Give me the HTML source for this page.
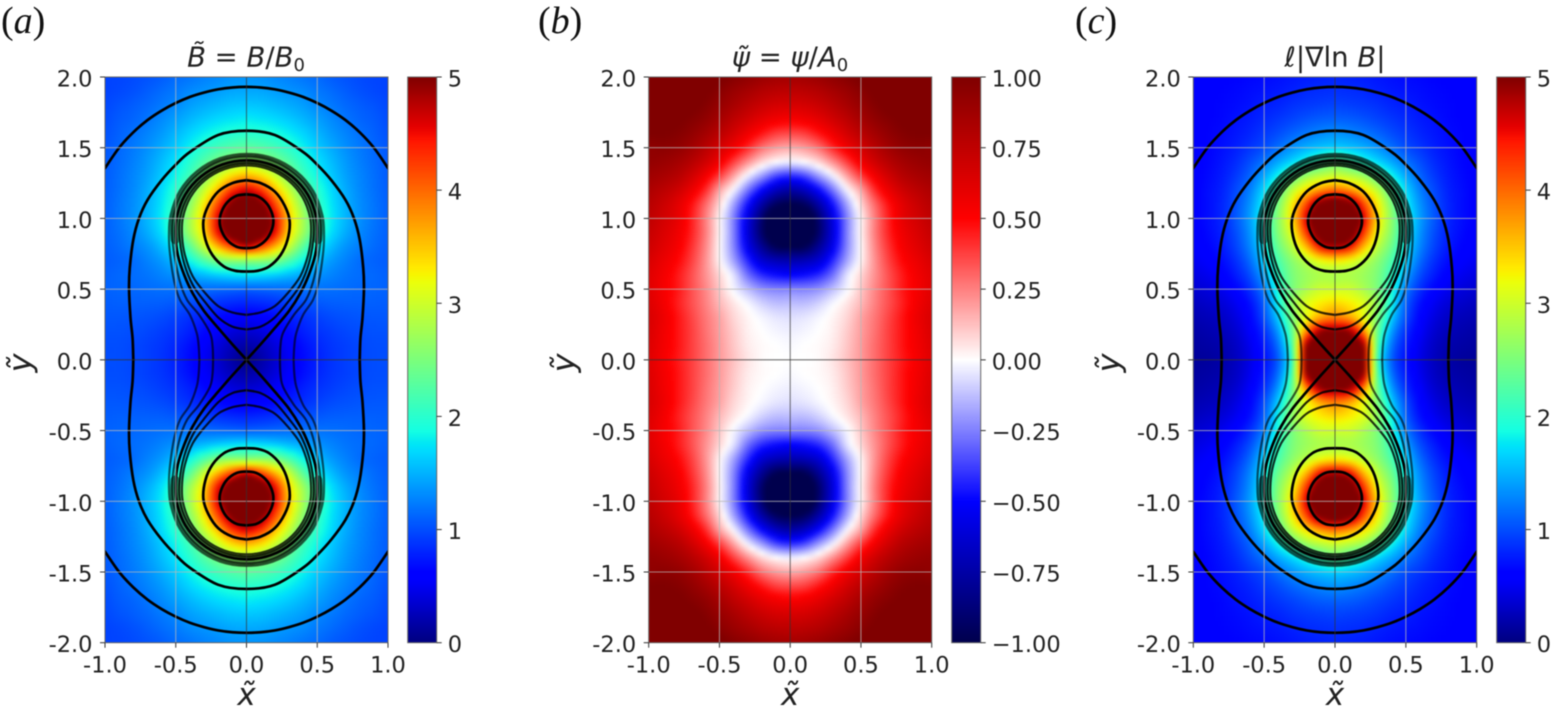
<!DOCTYPE html>
<html>
<head>
<meta charset="utf-8">
<title>Magnetic field maps</title>
<style>
html,body{margin:0;padding:0;background:#fff;}
svg{display:block;}
text{font-family:"DejaVu Sans","Liberation Sans",sans-serif;fill:#222;}
.panel-letter{font-family:"Liberation Serif",serif;font-size:38px;fill:#111;}
</style>
</head>
<body>
<svg id="figure" width="1555" height="713" viewBox="0 0 1555 713" xmlns="http://www.w3.org/2000/svg">
  <defs>
    <filter id="soft" filterUnits="userSpaceOnUse" x="0" y="0" width="1555" height="713" color-interpolation-filters="sRGB"><feGaussianBlur stdDeviation="2.2"/></filter>
    <filter id="fine" filterUnits="userSpaceOnUse" x="0" y="0" width="1555" height="713" color-interpolation-filters="sRGB"><feGaussianBlur stdDeviation="0.45"/></filter>
  </defs>
  <g id="root" filter="url(#fine)">
    <rect x="0" y="0" width="1555" height="713" fill="#fff"/>
    <g id="panels"></g>
    <text class="panel-letter" x="1" y="33">(<tspan font-style="italic">a</tspan>)</text>
    <text class="panel-letter" x="538" y="33">(<tspan font-style="italic">b</tspan>)</text>
    <text class="panel-letter" x="1075" y="33">(<tspan font-style="italic">c</tspan>)</text>
    <text x="246" y="66.5" font-size="27.5" text-anchor="middle"><tspan font-style="italic">B&#771;</tspan> = <tspan font-style="italic">B</tspan>/<tspan font-style="italic">B</tspan><tspan font-size="18" dy="4.5">0</tspan></text>
    <text x="790" y="66.5" font-size="27.5" text-anchor="middle"><tspan font-style="italic">&#968;&#771;</tspan> = <tspan font-style="italic">&#968;</tspan>/<tspan font-style="italic">A</tspan><tspan font-size="18" dy="4.5">0</tspan></text>
    <text x="1335" y="66.5" font-size="27.5" text-anchor="middle"><tspan font-style="italic">&#8467;</tspan>|&#8711;ln <tspan font-style="italic">B</tspan>|</text>
  </g>
</svg>
<script>
// Node coordinates of the value grids (one quadrant, the maps are mirrored in x and y)
const gridX = [0, 0.1, 0.2, 0.3, 0.4, 0.5, 0.6, 0.7, 0.8, 0.9, 1.0];
const gridY = [2.0, 1.9, 1.8, 1.7, 1.6, 1.5, 1.4, 1.3, 1.2, 1.1, 1.0, 0.9, 0.8, 0.7, 0.6, 0.5, 0.4, 0.3, 0.2, 0.1, 0];

const fieldB = [
[1.35,1.34,1.3,1.26,1.2,1.15,1.08,1.03,.99,.96,.95],
[1.45,1.44,1.4,1.35,1.3,1.22,1.15,1.08,1.02,.98,.95],
[1.6,1.58,1.53,1.47,1.4,1.3,1.22,1.14,1.08,1.03,.98],
[1.78,1.75,1.7,1.62,1.52,1.41,1.3,1.2,1.12,1.07,1.0],
[2.0,1.97,1.9,1.8,1.67,1.52,1.38,1.27,1.18,1.1,1.03],
[2.3,2.25,2.15,2.0,1.82,1.63,1.47,1.33,1.22,1.13,1.05],
[2.75,2.68,2.5,2.25,1.98,1.75,1.55,1.38,1.25,1.15,1.07],
[3.6,3.4,3.0,2.55,2.15,1.85,1.62,1.42,1.28,1.17,1.08],
[4.6,4.3,3.6,2.95,2.4,2.0,1.7,1.47,1.3,1.18,1.09],
[5.6,5.1,4.2,3.3,2.6,2.1,1.75,1.5,1.32,1.2,1.1],
[6.2,5.6,4.6,3.5,2.75,2.18,1.78,1.52,1.33,1.2,1.1],
[6.0,5.4,4.5,3.4,2.7,2.12,1.72,1.47,1.3,1.18,1.1],
[4.6,4.2,3.6,2.95,2.3,1.85,1.55,1.35,1.24,1.15,1.09],
[2.6,2.6,2.5,2.2,1.85,1.58,1.38,1.26,1.16,1.11,1.08],
[1.75,1.72,1.65,1.55,1.45,1.35,1.27,1.2,1.16,1.13,1.1],
[1.1,1.12,1.14,1.16,1.18,1.18,1.17,1.15,1.13,1.12,1.1],
[.8,.82,.86,.93,1,1.05,1.08,1.09,1.09,1.09,1.08],
[.55,.58,.66,.76,.85,.93,.99,1.02,1.04,1.05,1.05],
[.36,.4,.52,.65,.77,.86,.92,.97,1,1.02,1.02],
[.18,.25,.4,.55,.69,.8,.88,.93,.97,1,1],
[.05,.18,.35,.52,.66,.78,.87,.93,.97,1,1]
];

const fieldPsi = [
[.85,.86,.89,.93,.97,1.02,1.06,1.08,1.08,1.06,1.04],
[.76,.77,.8,.85,.9,.96,1.02,1.06,1.07,1.06,1.04],
[.66,.67,.71,.77,.84,.91,.98,1.03,1.05,1.05,1.04],
[.53,.55,.6,.68,.76,.85,.93,.98,1.02,1.03,1.02],
[.36,.38,.46,.56,.67,.77,.86,.93,.98,1,1],
[.17,.2,.28,.42,.55,.67,.78,.87,.93,.95,.94],
[-.03,0,.08,.22,.38,.55,.69,.79,.86,.9,.92],
[-.42,-.36,-.2,-.03,.18,.38,.55,.69,.79,.84,.87],
[-.75,-.68,-.5,-.27,-.02,.18,.42,.58,.7,.77,.82],
[-1.0,-.95,-.75,-.47,-.18,.08,.3,.48,.62,.71,.78],
[-1.3,-1.2,-.9,-.58,-.25,.02,.26,.45,.6,.68,.75],
[-1.3,-1.18,-.92,-.6,-.25,.02,.26,.44,.57,.65,.72],
[-1,-.98,-.8,-.55,-.24,.01,.24,.41,.54,.62,.69],
[-.72,-.7,-.62,-.42,-.18,.02,.22,.38,.5,.58,.65],
[-.5,-.48,-.42,-.28,-.06,.08,.22,.35,.46,.55,.62],
[-.25,-.25,-.22,-.13,-.02,.11,.24,.35,.46,.54,.62],
[-.13,-.13,-.09,-.02,.05,.14,.25,.35,.45,.55,.63],
[-.06,-.05,-.02,.02,.08,.18,.27,.37,.47,.57,.65],
[-.03,-.02,0,.03,.1,.19,.28,.38,.47,.56,.64],
[-.01,0,.01,.04,.11,.2,.29,.38,.47,.55,.63],
[0,0,.01,.05,.12,.2,.29,.38,.46,.54,.62]
];

const fieldGrad = [
[.8,.78,.76,.73,.7,.67,.65,.63,.62,.61,.6],
[.85,.84,.82,.78,.74,.71,.68,.65,.63,.61,.6],
[.95,.93,.9,.86,.8,.76,.71,.67,.64,.62,.6],
[1.1,1.08,1.03,.96,.89,.82,.75,.7,.65,.62,.6],
[1.35,1.3,1.22,1.12,1,.9,.8,.73,.67,.63,.6],
[1.65,1.6,1.5,1.35,1.18,1,.88,.77,.69,.63,.6],
[2.4,2.2,1.95,1.7,1.45,1.2,1,.83,.72,.64,.6],
[3,2.9,2.7,2.3,1.85,1.45,1.12,.9,.75,.66,.6],
[4,3.8,3.4,2.9,2.25,1.7,1.25,.98,.78,.68,.6],
[5.5,5.2,4.2,3.3,2.5,1.85,1.35,1.02,.8,.68,.6],
[7,6,4.6,3.4,2.6,1.95,1.4,1.05,.8,.68,.6],
[6,5.5,4.3,3.2,2.55,1.9,1.35,1,.78,.66,.58],
[4.8,4.5,3.6,2.9,2.4,1.8,1.28,.95,.74,.62,.55],
[3.3,3.2,2.9,2.6,2.2,1.65,1.15,.85,.67,.56,.5],
[2.8,2.8,2.7,2.5,2.05,1.45,1,.75,.58,.48,.43],
[3,3,2.8,2.5,1.95,1.25,.85,.62,.48,.4,.36],
[3.4,3.3,3.1,2.65,1.85,1.1,.7,.5,.38,.32,.28],
[3.9,3.7,3.2,2.5,1.65,1,.62,.42,.3,.25,.22],
[5,4.9,3.9,2.4,1.4,.85,.55,.35,.25,.2,.17],
[6,5.5,4.9,2.3,1.2,.75,.48,.3,.2,.16,.14],
[6,6,5.1,2.2,1.1,.7,.45,.28,.18,.13,.12]
];

// Flux contours in data units, one half of each curve (mirrored when drawn)
const contourOuter = [[1,1.356],[.9,1.5],[.8,1.609],[.7,1.695],[.6,1.762],[.5,1.816],[.4,1.859],[.3,1.89],[.2,1.913],[.1,1.926],[0,1.93]];
const contourMiddle = [[.8,0],[.805,.15],[.82,.3],[.83,.5],[.825,.65],[.8,.85],[.76,1.0],[.7,1.13],[.6,1.27],[.5,1.38],[.4,1.47],[.2,1.59],[0,1.62]];
const contourCore = [[0,1.17],[.07,1.16],[.135,1.115],[.175,1.05],[.19,.98],[.175,.91],[.135,.845],[.07,.8],[0,.79]];
const contourRing = [[0,1.27],[.1,1.25],[.2,1.19],[.27,1.09],[.305,.98],[.29,.85],[.24,.74],[.16,.66],[.08,.63],[0,.625]];
const contourSeparatrix = [[0,0],[.1,.11],[.2,.225],[.3,.345],[.38,.47],[.44,.6],[.485,.74],[.5,.87],[.492,1.011],[.433,1.168],[.321,1.297],[.171,1.381],[0,1.41]];
const contourInnerA = [[0,.215],[.1,.235],[.2,.3],[.305,.424],[.38,.53],[.44,.68],[.472,.85],[.468,1.006],[.411,1.158],[.305,1.281],[.162,1.362],[0,1.39]];
const contourInnerB = [[0,.318],[.1,.335],[.2,.38],[.29,.47],[.38,.59],[.435,.74],[.455,.87],[.45,1.003],[.396,1.15],[.294,1.27],[.156,1.348],[0,1.375]];
const contourOuterA = [[.236,0],[.24,.1],[.258,.19],[.335,.318],[.42,.424],[.47,.55],[.51,.742],[.525,.88],[.517,1.02],[.455,1.185],[.337,1.32],[.18,1.41],[0,1.44]];
const contourOuterB = [[.333,0],[.338,.1],[.352,.19],[.4,.318],[.47,.424],[.51,.55],[.54,.742],[.548,.88],[.537,1.022],[.472,1.195],[.35,1.335],[.186,1.427],[0,1.457]];
const contourBand = [[.505,.85],[.51,.93],[.502,1.016],[.442,1.178],[.328,1.309],[.174,1.395],[0,1.425]];

// Tick labels
const xTicks = [-1, -0.5, 0, 0.5, 1];
const yTicks = [-2, -1.5, -1, -0.5, 0, 0.5, 1, 1.5, 2];
const gridXLines = [-0.5, 0.5];
const gridYLines = [-1.5, -1, -0.5, 0.5, 1, 1.5];
const jetTicks = [0, 1, 2, 3, 4, 5];
const seismicTicks = [-1, -0.75, -0.5, -0.25, 0, 0.25, 0.5, 0.75, 1];

const NS = 'http://www.w3.org/2000/svg';
const panelsRoot = document.getElementById('panels');

function make(tag, parent, attrs) {
  const e = document.createElementNS(NS, tag);
  for (const k in attrs) e.setAttribute(k, attrs[k]);
  parent.appendChild(e);
  return e;
}
function ramp(t, pts) {
  for (let i = 1; i < pts.length; i++) {
    if (t <= pts[i][0]) {
      const a = pts[i - 1], b = pts[i];
      return a[1] + (b[1] - a[1]) * (t - a[0]) / (b[0] - a[0]);
    }
  }
  return pts[pts.length - 1][1];
}
function jet(t) {
  const r = ramp(t, [[0,0],[.35,0],[.66,1],[.89,1],[1,.5]]);
  const g = ramp(t, [[0,0],[.125,0],[.375,1],[.64,1],[.91,0],[1,0]]);
  const b = ramp(t, [[0,.5],[.11,1],[.34,1],[.65,0],[1,0]]);
  return 'rgb(' + Math.round(r * 255) + ',' + Math.round(g * 255) + ',' + Math.round(b * 255) + ')';
}
function seismic(t) {
  const r = ramp(t, [[0,0],[.25,0],[.5,1],[.75,1],[1,.5]]);
  const g = ramp(t, [[0,0],[.25,0],[.5,1],[.75,0],[1,0]]);
  const b = ramp(t, [[0,.3],[.25,1],[.5,1],[.75,0],[1,0]]);
  return 'rgb(' + Math.round(r * 255) + ',' + Math.round(g * 255) + ',' + Math.round(b * 255) + ')';
}
function cr(p0, p1, p2, p3, t) {
  return 0.5 * (2 * p1 + (p2 - p0) * t + (2 * p0 - 5 * p1 + 4 * p2 - p3) * t * t + (3 * p1 - p0 - 3 * p2 + p3) * t * t * t);
}
function sampleField(field, x, y) {
  const nx = gridX.length, ny = gridY.length;
  const u = Math.min(Math.abs(x), gridX[nx - 1]) / (gridX[1] - gridX[0]);
  const v = (gridY[0] - Math.min(Math.abs(y), gridY[0])) / (gridY[0] - gridY[1]);
  const iu = Math.min(Math.floor(u), nx - 2), iv = Math.min(Math.floor(v), ny - 2);
  const cx = i => { if (i < 0) return -i; return Math.min(i, nx - 1); };
  const cy = j => { if (j < 0) return 0; if (j > ny - 1) return 2 * (ny - 1) - j; return j; };
  const rows = [];
  for (let j = -1; j <= 2; j++) {
    const row = field[cy(iv + j)];
    rows.push(cr(row[cx(iu - 1)], row[cx(iu)], row[cx(iu + 1)], row[cx(iu + 2)], u - iu));
  }
  return cr(rows[0], rows[1], rows[2], rows[3], v - iv);
}
function splinePath(pts) {
  let d = 'M' + pts[0][0].toFixed(2) + ' ' + pts[0][1].toFixed(2);
  for (let i = 0; i < pts.length - 1; i++) {
    const p0 = pts[Math.max(i - 1, 0)], p1 = pts[i], p2 = pts[i + 1], p3 = pts[Math.min(i + 2, pts.length - 1)];
    const c1x = p1[0] + (p2[0] - p0[0]) / 6, c1y = p1[1] + (p2[1] - p0[1]) / 6;
    const c2x = p2[0] - (p3[0] - p1[0]) / 6, c2y = p2[1] - (p3[1] - p1[1]) / 6;
    d += 'C' + c1x.toFixed(2) + ' ' + c1y.toFixed(2) + ' ' + c2x.toFixed(2) + ' ' + c2y.toFixed(2) + ' ' + p2[0].toFixed(2) + ' ' + p2[1].toFixed(2);
  }
  return d;
}

const plotTop = 77, plotBottom = 642.7;

function drawPanel(cfg) {
  const g = make('g', panelsRoot, {});
  
  
  const L = cfg.left, R = cfg.right;
  const sx = x => L + (x + 1) / 2 * (R - L);
  const sy = y => plotTop + (2 - y) / 4 * (plotBottom - plotTop);
  const norm = v => Math.max(0, Math.min(1, (v - cfg.vmin) / (cfg.vmax - cfg.vmin)));

  const clipId = 'clip-' + cfg.id;
  const defs = make('clipPath', g, { id: clipId });
  make('rect', defs, { x: L, y: plotTop, width: R - L, height: plotBottom - plotTop });

  const clipped = make('g', g, { 'clip-path': 'url(#' + clipId + ')' });
  
  

  // heat map cells
  const heat = make('g', clipped, { filter: 'url(#soft)' });
  
  
  const step = 0.1 / 3;
  const nCols = Math.round(2.3 / step), nRows = Math.round(4.3 / step);
  const frag = document.createDocumentFragment();
  for (let j = 0; j < nRows; j++) {
    for (let i = 0; i < nCols; i++) {
      const x0 = -1.15 + i * step, y0 = 2.15 - j * step;
      const xc = x0 + step / 2, yc = y0 - step / 2;
      const v = sampleField(cfg.field, xc, yc);
      const cell = document.createElementNS(NS, 'rect');
      cell.setAttribute('x', sx(x0).toFixed(2));
      cell.setAttribute('y', sy(y0).toFixed(2));
      cell.setAttribute('width', (sx(x0 + step) - sx(x0) + 0.4).toFixed(2));
      cell.setAttribute('height', (sy(y0 - step) - sy(y0) + 0.4).toFixed(2));
      cell.setAttribute('fill', cfg.cmap(norm(v)));
      
      
      frag.appendChild(cell);
    }
  }
  heat.appendChild(frag);

  // contours
  if (cfg.contours) {
    const drawContour = (pts, width, opacity, color) => {
      const half = pts.concat(pts.slice(0, -1).reverse().map(p => [-p[0], p[1]]));
      [1, -1].forEach(sign => {
        const px = half.map(p => [sx(p[0]), sy(sign * p[1])]);
        const path = make('path', clipped, { d: splinePath(px), fill: 'none', stroke: color, 'stroke-width': width, 'stroke-opacity': opacity, 'stroke-linejoin': 'round', 'stroke-linecap': 'round' });
        
        
      });
    };
    drawContour(contourBand, 9, cfg.bandOpacity, cfg.bandColor);
    drawContour(contourOuterB, 2.2, .6, '#000');
    drawContour(contourOuterA, 2.2, .65, '#000');
    drawContour(contourInnerB, 2.2, .8, '#000');
    drawContour(contourInnerA, 2.2, .85, '#000');
    drawContour(contourSeparatrix, 2.7, 1, '#000');
    drawContour(contourCore, 2.7, 1, '#000');
    drawContour(contourRing, 2.7, 1, '#000');
    drawContour(contourMiddle, 2.7, 1, '#000');
    drawContour(contourOuter, 2.7, 1, '#000');
  }

  // grid
  gridXLines.forEach(x => {
    const line = make('line', clipped, { x1: sx(x), x2: sx(x), y1: plotTop, y2: plotBottom, stroke: '#b8b8b8', 'stroke-opacity': .7, 'stroke-width': 1.1 });
    
    
  });
  gridYLines.forEach(y => {
    const line = make('line', clipped, { x1: L, x2: R, y1: sy(y), y2: sy(y), stroke: '#b8b8b8', 'stroke-opacity': .7, 'stroke-width': 1.1 });
    
    
  });
  const zeroV = make('line', clipped, { x1: sx(0), x2: sx(0), y1: plotTop, y2: plotBottom, stroke: '#333', 'stroke-opacity': .65, 'stroke-width': 1.1 });
  
  
  const zeroH = make('line', clipped, { x1: L, x2: R, y1: sy(0), y2: sy(0), stroke: '#333', 'stroke-opacity': .7, 'stroke-width': 1.1 });
  
  

  // frame
  const frame = make('rect', g, { x: L, y: plotTop, width: R - L, height: plotBottom - plotTop, fill: 'none', stroke: '#666', 'stroke-width': 1 });
  
  

  // axis ticks and labels
  xTicks.forEach(x => {
    const t = make('line', g, { x1: sx(x), x2: sx(x), y1: plotBottom, y2: plotBottom + 5, stroke: '#333', 'stroke-width': 1 });
    
    
    const lab = make('text', g, { x: sx(x), y: 672.5, 'font-size': 22.5, 'text-anchor': 'middle' });
    lab.textContent = x.toFixed(1);
    
    
  });
  yTicks.forEach(y => {
    const t = make('line', g, { x1: L - 5, x2: L, y1: sy(y), y2: sy(y), stroke: '#333', 'stroke-width': 1 });
    
    
    const lab = make('text', g, { x: L - 12.5, y: sy(y) + 9.5, 'font-size': 22.5, 'text-anchor': 'end' });
    lab.textContent = y.toFixed(1);
    
    
  });
  const xTitle = make('text', g, { x: sx(0), y: 705, 'font-size': 31, 'text-anchor': 'middle', 'font-style': 'italic' });
  xTitle.textContent = 'x\u0303';
  
  
  const yTitle = make('text', g, { x: 0, y: 0, 'font-size': 32, 'text-anchor': 'middle', 'font-style': 'italic', transform: 'translate(' + (L - 74) + ' ' + (sy(0) + 3) + ') rotate(-90)' });
  yTitle.textContent = 'y\u0303';
  
  

  // colour bar
  const gradId = 'grad-' + cfg.id;
  const grad = make('linearGradient', g, { id: gradId, x1: 0, y1: 1, x2: 0, y2: 0 });
  for (let i = 0; i <= 80; i++) {
    make('stop', grad, { offset: (i / 80).toFixed(4), 'stop-color': cfg.cmap(i / 80) });
  }
  const bar = make('rect', g, { x: cfg.barLeft, y: plotTop, width: cfg.barWidth, height: plotBottom - plotTop, fill: 'url(#' + gradId + ')', stroke: '#666', 'stroke-width': 1 });
  
  
  const barRight = cfg.barLeft + cfg.barWidth;
  cfg.barTicks.forEach(v => {
    const yy = plotBottom - norm(v) * (plotBottom - plotTop);
    const t = make('line', g, { x1: barRight, x2: barRight + 5, y1: yy, y2: yy, stroke: '#333', 'stroke-width': 1 });
    
    
    const lab = make('text', g, { x: barRight + 11, y: yy + 9.5, 'font-size': 22.5 });
    lab.textContent = cfg.barFormat(v);
    
    
  });
}

drawPanel({ id: 'panel-a', left: 105, right: 388, field: fieldB, vmin: 0, vmax: 5, cmap: jet, contours: true, bandOpacity: .5, bandColor: '#0a1408', barLeft: 407.7, barWidth: 29, barTicks: jetTicks, barFormat: v => String(v) });
drawPanel({ id: 'panel-b', left: 648.7, right: 931.7, field: fieldPsi, vmin: -1, vmax: 1, cmap: seismic, contours: false, barLeft: 951.7, barWidth: 29, barTicks: seismicTicks, barFormat: v => (v < 0 ? '\u2212' : '') + Math.abs(v).toFixed(2) });
drawPanel({ id: 'panel-c', left: 1193.3, right: 1476.7, field: fieldGrad, vmin: 0, vmax: 5, cmap: jet, contours: true, bandOpacity: .5, bandColor: '#06201a', barLeft: 1496.7, barWidth: 29, barTicks: jetTicks, barFormat: v => String(v) });
</script>
</body>
</html>
